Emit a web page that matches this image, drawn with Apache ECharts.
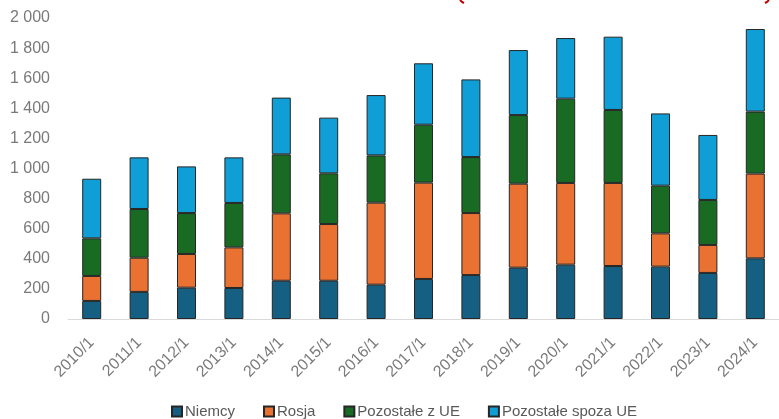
<!DOCTYPE html>
<html>
<head>
<meta charset="utf-8">
<script src="https://cdn.jsdelivr.net/npm/echarts@6/dist/echarts.min.js"></script>
<style>
  html, body { margin: 0; padding: 0; background: #ffffff; }
  #chart { width: 779px; height: 419px; }
</style>
</head>
<body>
<div id="chart"></div>
<script>
// Years on the category axis
const categories = ['2010/1', '2011/1', '2012/1', '2013/1', '2014/1', '2015/1', '2016/1', '2017/1',
                    '2018/1', '2019/1', '2020/1', '2021/1', '2022/1', '2023/1', '2024/1'];

// Stacked components
const niemcy         = [120, 180, 208, 206, 254, 254, 228, 266, 292, 341, 361, 352, 348, 306, 403];
const rosja          = [166, 227, 224, 270, 448, 377, 545, 640, 412, 558, 543, 552, 221, 186, 563];
const pozostaleUE    = [250, 324, 272, 295, 392, 337, 314, 385, 372, 456, 560, 485, 317, 299, 412];
const pozostaleSpoza = [396, 343, 310, 303, 377, 370, 401, 408, 516, 432, 403, 487, 480, 432, 549];

const seriesNames = ['Niemcy', 'Rosja', 'Pozostałe z UE', 'Pozostałe spoza UE'];
const seriesColors = ['#156082', '#E97132', '#196B24', '#0F9ED5'];
const seriesData = [niemcy, rosja, pozostaleUE, pozostaleSpoza];

const FONT = '"Liberation Sans", Arial, sans-serif';

function fmtThousands(v) {
  return String(v).replace(/\B(?=(\d{3})+(?!\d))/g, '\u00a0');
}

const chart = echarts.init(document.getElementById('chart'), null, { renderer: 'canvas' });

chart.setOption({
  animation: false,
  backgroundColor: '#ffffff',
  color: seriesColors,
  grid: { left: 68, top: 18, width: 718, bottom: 100, containLabel: false },
  legend: {
    left: 166,
    top: 399,
    itemWidth: 10,
    itemHeight: 10,
    itemGap: 28,
    icon: 'rect',
    textStyle: { fontFamily: FONT, fontSize: 15, color: '#595959', padding: [0, 0, 0, -2] },
    data: seriesNames
  },
  xAxis: {
    type: 'category',
    data: categories,
    axisLine: { show: true, lineStyle: { color: '#d9d9d9', width: 1 } },
    axisTick: { show: false },
    axisLabel: {
      rotate: 45,
      margin: 21,
      fontFamily: FONT,
      fontSize: 16,
      color: '#7a7a7a'
    }
  },
  yAxis: {
    type: 'value',
    min: 0,
    max: 2000,
    interval: 200,
    splitLine: { show: false },
    axisLine: { show: false },
    axisTick: { show: false },
    axisLabel: {
      margin: 18,
      fontFamily: FONT,
      fontSize: 16,
      color: '#7a7a7a',
      formatter: fmtThousands
    }
  },
  series: seriesData.map((d, i) => ({
    name: seriesNames[i],
    type: 'bar',
    stack: 'total',
    barWidth: 19,
    data: d,
    itemStyle: { color: seriesColors[i], borderColor: '#262626', borderWidth: 1 }
  })),
  graphic: [
    { type: 'polyline', shape: { points: [[460, 0], [462, 2], [464, 3]] },
      style: { stroke: '#c00000', lineWidth: 2, fill: null } },
    { type: 'polyline', shape: { points: [[769, 0], [767, 2], [765, 3]] },
      style: { stroke: '#c00000', lineWidth: 2, fill: null } }
  ]
});
</script>
</body>
</html>
